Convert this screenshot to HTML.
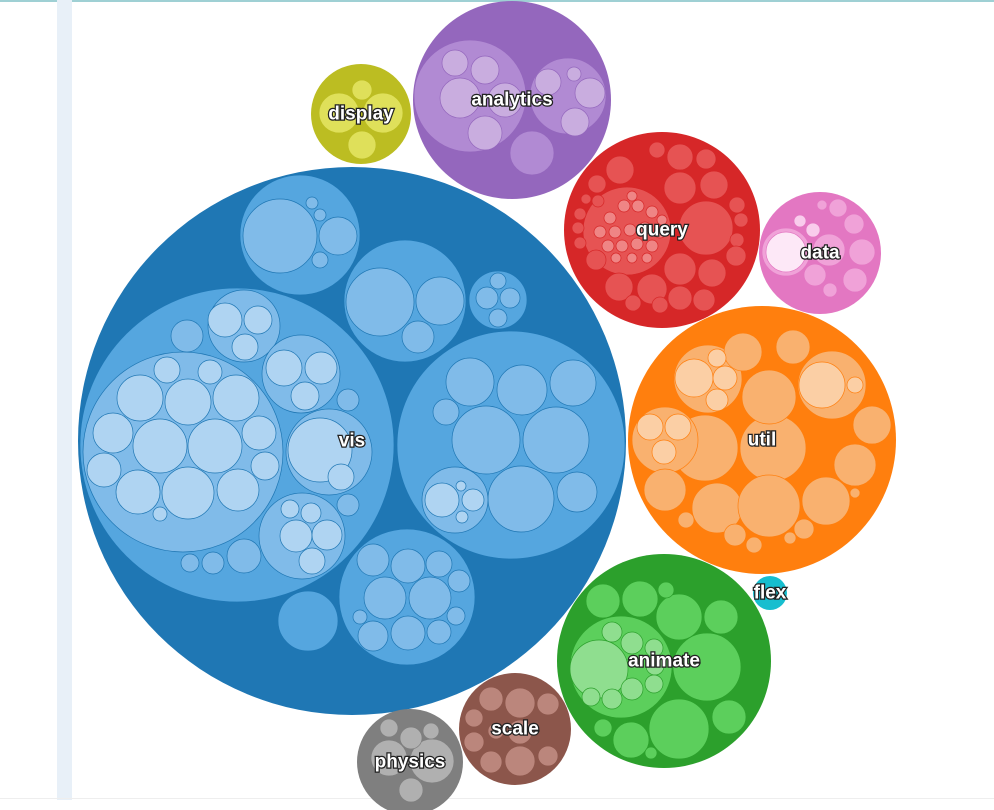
<!DOCTYPE html>
<html><head><meta charset="utf-8"><style>
html,body{margin:0;padding:0;background:#fff;}
svg{display:block;}
text{font-family:"Liberation Sans",sans-serif;font-weight:bold;font-size:19px;fill:#fff;stroke:#222;stroke-width:2.5px;paint-order:stroke;text-anchor:middle;dominant-baseline:central;}
</style></head><body>
<svg id="chart" width="994" height="810">
<rect x="0" y="0" width="994" height="2" fill="#9fd0d4"/>
<rect x="57" y="0" width="15" height="800" fill="#e8f0f8"/>
<rect x="0" y="798" width="994" height="1" fill="#eee"/>
<g id="circles"></g>
<g id="labels"></g>
</svg>
<script>
const groupNames=["vis","analytics","display","query","data","util","flex","animate","scale","physics"];
const groupCx=[352,512,361,662,820,762,770,664,515,410];
const groupCy=[441,100,114,230,253,440,593,661,729,762];
const groupR=[274,99,50,98,61,134,17,107,56,53];
const labelY=[441,100,114,230,253,440,593,661,729,762];
const depthColors=[
["#1f77b4","#55a6df","#80bbe9","#afd4f2"],
["#9467bd","#b18ad3","#c9addf","#e2d2ef"],
["#bcbd22","#dfe05a","#eded94","#f5f5c0"],
["#d62728","#e65353","#ef8585","#f6b0b0"],
["#e377c2","#f0a2d8","#f9ccec","#fde8f7"],
["#ff7f0e","#f9b16f","#fbcfa5","#fde3cc"],
["#17becf","#5fd6e2","#9ae6ee","#c8f2f6"],
["#2ca02c","#5ccf5c","#8fde8f","#bdebbd"],
["#8c564b","#bb867c","#d3aaa2","#e6ccc7"],
["#7f7f7f","#b0b0b0","#cfcfcf","#e5e5e5"]
];
// nested nodes: [group index, depth, cx, cy, r]
const nodes=[
[0,1,237,445,157],[0,1,511,445,114],[0,1,407,597,68],[0,1,405,301,61],[0,1,300,235,60],[0,1,498,300,29],[0,1,308,621,30],
[0,2,183,452,100],[0,2,244,326,36],[0,2,301,374,39],[0,2,329,452,43],[0,2,302,536,43],[0,2,187,336,16],[0,2,244,556,17],[0,2,213,563,11],[0,2,190,563,9],[0,2,348,400,11],[0,2,348,505,11],
[0,3,160,446,27],[0,3,215,446,27],[0,3,188,402,23],[0,3,236,398,23],[0,3,140,398,23],[0,3,113,433,20],[0,3,104,470,17],[0,3,138,492,22],[0,3,188,493,26],[0,3,238,490,21],[0,3,259,433,17],[0,3,265,466,14],[0,3,167,370,13],[0,3,210,372,12],[0,3,160,514,7],
[0,3,225,320,17],[0,3,258,320,14],[0,3,245,347,13],[0,3,284,368,18],[0,3,321,368,16],[0,3,305,396,14],[0,3,320,450,32],[0,3,341,477,13],[0,3,296,536,16],[0,3,327,535,15],[0,3,312,561,13],[0,3,290,509,9],[0,3,311,513,10],
[0,2,486,440,34],[0,2,556,440,33],[0,2,522,390,25],[0,2,573,383,23],[0,2,470,382,24],[0,2,521,499,33],[0,2,577,492,20],[0,2,455,500,33],[0,2,446,412,13],
[0,3,442,500,17],[0,3,473,500,11],[0,3,462,517,6],[0,3,461,486,5],
[0,2,385,598,21],[0,2,430,598,21],[0,2,408,566,17],[0,2,373,560,16],[0,2,439,564,13],[0,2,459,581,11],[0,2,408,633,17],[0,2,373,636,15],[0,2,439,632,12],[0,2,456,616,9],[0,2,360,617,7],
[0,2,380,302,34],[0,2,440,301,24],[0,2,418,337,16],
[0,2,280,236,37],[0,2,338,236,19],[0,2,320,260,8],[0,2,312,203,6],[0,2,320,215,6],
[0,2,487,298,11],[0,2,510,298,10],[0,2,498,318,9],[0,2,498,281,8],
[1,1,470,96,56],[1,1,568,96,38],[1,1,532,153,22],
[1,2,460,98,20],[1,2,485,70,14],[1,2,455,63,13],[1,2,485,133,17],[1,2,505,100,17],[1,2,590,93,15],[1,2,575,122,14],[1,2,548,82,13],[1,2,574,74,7],
[2,1,339,113,20],[2,1,383,113,20],[2,1,362,145,14],[2,1,362,90,10],
[3,1,627,231,44],[3,1,706,228,27],[3,1,620,170,14],[3,1,657,150,8],[3,1,680,157,13],[3,1,706,159,10],[3,1,714,185,14],[3,1,737,205,8],[3,1,741,220,7],[3,1,737,240,7],[3,1,736,256,10],[3,1,712,273,14],[3,1,680,269,16],[3,1,652,289,15],[3,1,619,287,14],[3,1,596,260,10],[3,1,580,243,6],[3,1,578,228,6],[3,1,580,214,6],[3,1,597,184,9],[3,1,680,188,16],[3,1,660,305,8],[3,1,633,303,8],[3,1,704,300,11],[3,1,680,298,12],[3,1,598,201,6],[3,1,586,199,5],
[3,2,610,218,6],[3,2,624,206,6],[3,2,638,206,6],[3,2,652,212,6],[3,2,600,232,6],[3,2,615,232,6],[3,2,630,230,6],[3,2,645,228,6],[3,2,660,232,6],[3,2,608,246,6],[3,2,622,246,6],[3,2,637,244,6],[3,2,652,246,6],[3,2,616,258,5],[3,2,632,258,5],[3,2,647,258,5],[3,2,632,196,5],[3,2,662,220,5],
[4,1,786,252,24],[4,1,829,250,16],[4,1,854,224,10],[4,1,862,252,13],[4,1,855,280,12],[4,1,838,208,9],[4,1,815,275,11],[4,1,830,290,7],[4,1,822,205,5],[4,2,800,221,6],[4,2,813,230,7],[4,3,786,252,20],
[5,1,773,448,33],[5,1,705,448,33],[5,1,769,397,27],[5,1,832,385,34],[5,1,708,379,34],[5,1,665,440,33],[5,1,743,352,19],[5,1,793,347,17],[5,1,717,508,25],[5,1,769,506,31],[5,1,826,501,24],[5,1,855,465,21],[5,1,872,425,19],[5,1,665,490,21],[5,1,735,535,11],[5,1,754,545,8],[5,1,804,529,10],[5,1,790,538,6],[5,1,855,493,5],[5,1,686,520,8],
[5,2,694,378,19],[5,2,725,378,12],[5,2,717,400,11],[5,2,717,358,9],[5,2,822,385,23],[5,2,855,385,8],[5,2,650,427,13],[5,2,678,427,13],[5,2,664,452,12],
[7,1,621,667,51],[7,1,707,667,34],[7,1,679,617,23],[7,1,640,599,18],[7,1,603,601,17],[7,1,721,617,17],[7,1,679,729,30],[7,1,631,740,18],[7,1,729,717,17],[7,1,603,728,9],[7,1,666,590,8],[7,1,651,753,6],
[7,2,599,669,29],[7,2,632,643,11],[7,2,612,632,10],[7,2,654,648,9],[7,2,655,666,9],[7,2,654,684,9],[7,2,632,689,11],[7,2,612,699,10],[7,2,591,697,9],
[8,1,520,703,15],[8,1,491,699,12],[8,1,548,704,11],[8,1,520,761,15],[8,1,491,762,11],[8,1,548,756,10],[8,1,474,742,10],[8,1,474,718,9],[8,1,520,732,12],[8,1,496,731,8],
[9,1,389,758,18],[9,1,432,761,22],[9,1,411,738,11],[9,1,411,790,12],[9,1,389,728,9],[9,1,431,731,8]
];
const NS="http://www.w3.org/2000/svg";
const cg=document.getElementById('circles'),lg=document.getElementById('labels');
groupNames.forEach((n,i)=>{
 const c=document.createElementNS(NS,'circle');
 c.setAttribute('cx',groupCx[i]);c.setAttribute('cy',groupCy[i]);c.setAttribute('r',groupR[i]);
 c.setAttribute('fill',depthColors[i][0]);
 
 
 cg.appendChild(c);
});
nodes.forEach(d=>{
 const [g,dep,x,y,r]=d;
 const c=document.createElementNS(NS,'circle');
 c.setAttribute('cx',x);c.setAttribute('cy',y);c.setAttribute('r',r);
 c.setAttribute('fill',depthColors[g][dep]);
 c.setAttribute('stroke',depthColors[g][0]);c.setAttribute('stroke-width','0.7');
 
 
 cg.appendChild(c);
});
groupNames.forEach((n,i)=>{
 const t=document.createElementNS(NS,'text');
 t.setAttribute('x',groupCx[i]);t.setAttribute('y',labelY[i]);
 t.textContent=n;
 
 
 lg.appendChild(t);
});
</script>
</body></html>
